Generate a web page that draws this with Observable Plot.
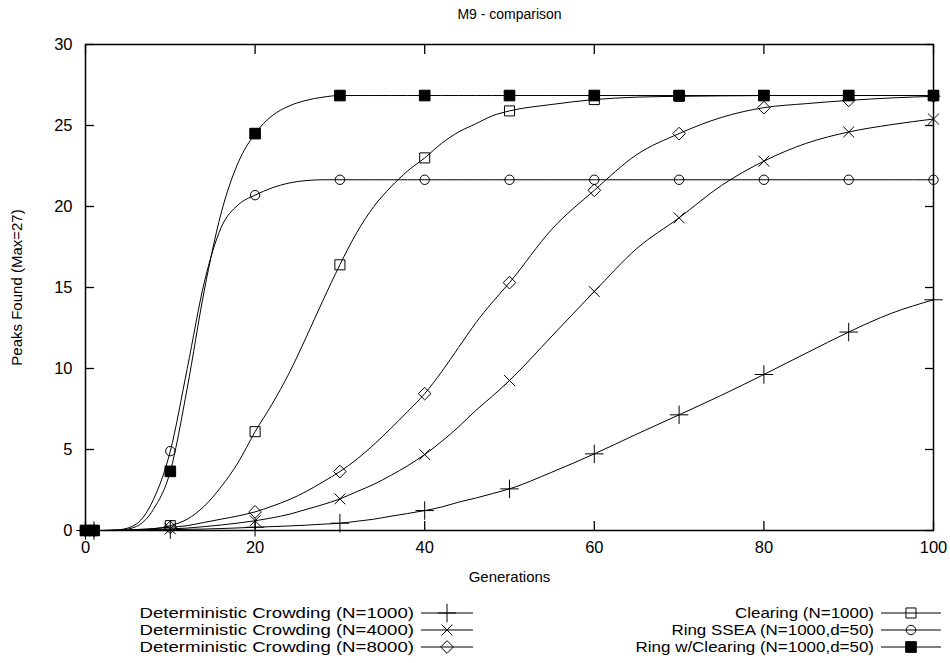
<!DOCTYPE html>
<html><head><meta charset="utf-8">
<script src="https://cdn.jsdelivr.net/npm/d3@7"></script>
<script src="https://cdn.jsdelivr.net/npm/@observablehq/plot@0.6"></script>
<style>body{margin:0;background:#fff} svg{display:block}</style>
</head><body><div id="chart"></div>
<script>
const titleText = "M9 - comparison";
const xLabel = "Generations";
const yLabel = "Peaks Found (Max=27)";
const gens = [0,1,2,4,6,8,10,12,14,16,18,20,22,24,26,28,30,32,34,36,38,40,42,44,46,48,50,55,60,65,70,75,80,85,90,95,100];
const dc1000 = [0,0,0,0,0.01,0.03,0.05,0.07,0.09,0.12,0.16,0.2,0.24,0.28,0.33,0.39,0.45,0.57,0.7,0.88,1.05,1.23,1.45,1.75,2.0,2.28,2.57,3.6,4.73,5.95,7.14,8.35,9.63,10.95,12.25,13.4,14.24];
const dc4000 = [0,0,0,0.01,0.03,0.06,0.1,0.15,0.24,0.34,0.46,0.6,0.78,1.0,1.3,1.6,1.95,2.4,2.85,3.4,4.0,4.69,5.5,6.4,7.4,8.3,9.26,12.0,14.75,17.4,19.3,21.3,22.8,23.9,24.6,25.05,25.4];
const dc8000 = [0,0,0,0.02,0.06,0.12,0.2,0.3,0.5,0.7,0.9,1.15,1.5,1.9,2.4,3.0,3.64,4.4,5.3,6.3,7.35,8.45,9.8,11.3,12.8,14.1,15.3,18.6,21.0,23.2,24.5,25.5,26.1,26.35,26.55,26.7,26.8];
const clearing = [0,0,0,0,0.03,0.1,0.3,0.7,1.5,2.7,4.2,6.1,7.8,9.7,11.9,14.2,16.4,18.4,20.0,21.2,22.2,23.0,23.9,24.6,25.1,25.6,25.9,26.3,26.6,26.75,26.8,26.83,26.85,26.85,26.85,26.85,26.85];
const ringSSEA = [0,0,0,0.05,0.4,1.9,4.9,10.0,15.3,18.7,20.1,20.7,21.15,21.45,21.6,21.65,21.65,21.65,21.65,21.65,21.65,21.65,21.65,21.65,21.65,21.65,21.65,21.65,21.65,21.65,21.65,21.65,21.65,21.65,21.65,21.65,21.65];
const ringClearing = [0,0,0,0.02,0.25,1.3,3.65,8.8,14.8,19.6,22.7,24.5,25.6,26.2,26.55,26.75,26.85,26.85,26.85,26.85,26.85,26.85,26.85,26.85,26.85,26.85,26.85,26.85,26.85,26.85,26.85,26.85,26.85,26.85,26.85,26.85,26.85];
const seriesNames = ["Deterministic Crowding (N=1000)","Deterministic Crowding (N=4000)","Deterministic Crowding (N=8000)","Clearing (N=1000)","Ring SSEA (N=1000,d=50)","Ring w/Clearing (N=1000,d=50)"];
const seriesValues = [dc1000, dc4000, dc8000, clearing, ringSSEA, ringClearing];
const markerGens = [0,1,10,20,30,40,50,60,70,80,90,100];
const xTicks = [0,20,40,60,80,100];
const yTicks = [0,5,10,15,20,25,30];

const symbolStyles = [
  {symbol:"plus", r:6, fill:"none"},
  {symbol:"times", r:5, fill:"none"},
  {symbol:"diamond2", r:5.7, fill:"none"},
  {symbol:"square2", r:6.4, fill:"none"},
  {symbol:"circle", r:4.7, fill:"none"},
  {symbol:"square", r:6, fill:"black"}
];

const FONT = "'Liberation Sans', Arial, sans-serif";
const rows = [];
seriesNames.forEach((name, i) => gens.forEach((g, j) => rows.push({series: name, idx: i, gen: g, value: seriesValues[i][j]})));

const marks = [];
seriesNames.forEach((name, i) => {
  const data = rows.filter(d => d.idx === i);
  marks.push(Plot.line(data, {x: "gen", y: "value", curve: "monotone-x", stroke: "black", strokeWidth: 1}));
});
seriesNames.forEach((name, i) => {
  const data = rows.filter(d => d.idx === i && markerGens.includes(d.gen));
  const s = symbolStyles[i];
  marks.push(Plot.dot(data, {x: "gen", y: "value", symbol: () => s.symbol, r: s.r, fill: s.fill, stroke: "black", strokeWidth: 1}));
});

const plot = Plot.plot({
  width: 950, height: 663,
  marginTop: 44, marginBottom: 133, marginLeft: 85, marginRight: 17,
  style: {fontFamily: FONT, fontSize: "16px", color: "black", background: "white"},
  x: {domain: [0, 100]},
  y: {domain: [0, 30]},
  symbol: {type: "identity"},
  marks: [
    ...marks,
    Plot.frame({stroke: "black", strokeWidth: 1.5}),
    Plot.axisX(xTicks, {anchor: "bottom", tickSize: -9, tickPadding: 20, label: null, strokeWidth: 1.3, fontSize: 16.5}),
    Plot.axisX(xTicks, {anchor: "top", tickSize: -9, tickFormat: () => "", label: null, strokeWidth: 1.3}),
    Plot.axisY(yTicks, {anchor: "left", tickSize: -9, tickPadding: 22, label: null, strokeWidth: 1.3, fontSize: 16.5}),
    Plot.axisY(yTicks, {anchor: "right", tickSize: -9, tickFormat: () => "", label: null, strokeWidth: 1.3}),
    Plot.text([titleText], {frameAnchor: "top", dy: -30, lineAnchor: "middle", textAnchor: "middle", fontSize: 14, fill: "black"}),
    Plot.text([xLabel], {frameAnchor: "bottom", dy: 47, lineAnchor: "middle", textAnchor: "middle", fontSize: 15, fill: "black"}),
    Plot.text([yLabel], {frameAnchor: "left", dx: -68, rotate: -90, lineAnchor: "middle", textAnchor: "middle", fontSize: 15, fill: "black"})
  ]
});

document.getElementById("chart").appendChild(plot);

// Legend (gnuplot-style, two columns of three rows)
const svg = d3.select(plot);
const symMap = {plus: d3.symbolPlus, times: d3.symbolTimes, diamond2: d3.symbolDiamond2, square2: d3.symbolSquare2, circle: d3.symbolCircle, square: d3.symbolSquare};
const legendCols = [{textEnd: 414, x1: 421, x2: 473, mx: 447, stretch: 1.24}, {textEnd: 874, x1: 881, x2: 941, mx: 911, stretch: 1.13}];
const legendRows = [613, 630, 647];
const lg = svg.append("g").attr("font-family", FONT).attr("font-size", 15);
seriesNames.forEach((name, i) => {
  const col = legendCols[Math.floor(i / 3)];
  const y = legendRows[i % 3];
  const s = symbolStyles[i];
  const t = lg.append("text").attr("x", col.textEnd).attr("y", y).attr("dy", "0.35em").attr("text-anchor", "end").attr("fill", "black").text(name);
  const w = t.node().getComputedTextLength();
  if (w > 0) t.attr("textLength", (w * col.stretch).toFixed(1)).attr("lengthAdjust", "spacingAndGlyphs");
  lg.append("line").attr("x1", col.x1).attr("x2", col.x2).attr("y1", y).attr("y2", y).attr("stroke", "black");
  lg.append("path").attr("transform", `translate(${col.mx},${y})`)
    .attr("d", d3.symbol(symMap[s.symbol], Math.PI * s.r * s.r)())
    .attr("fill", s.fill).attr("stroke", "black");
});
</script>
</body></html>
